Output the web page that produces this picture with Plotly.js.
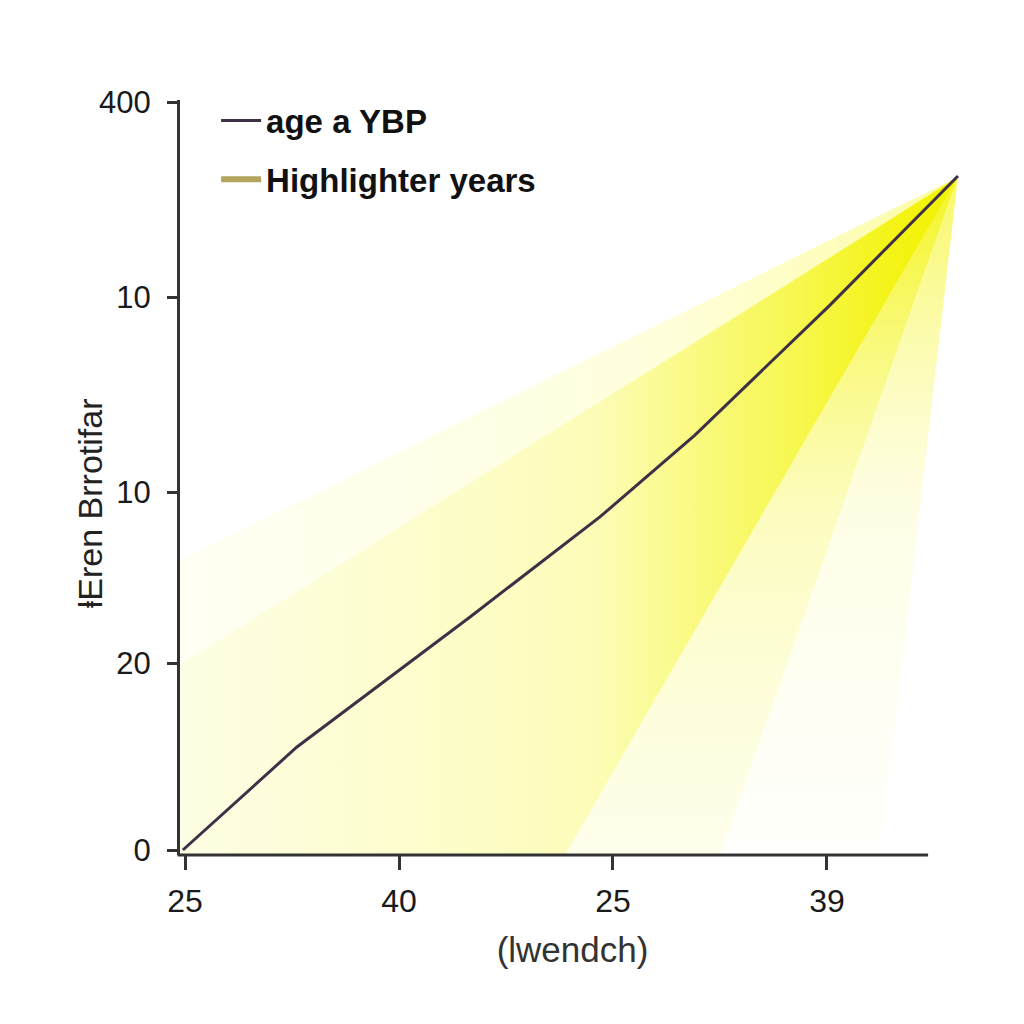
<!DOCTYPE html>
<html>
<head>
<meta charset="utf-8">
<script src="https://cdn.plot.ly/plotly-3.0.1.min.js"></script>
<style>html,body{margin:0;padding:0;background:#fff;}#chart{width:1024px;height:1024px;}</style>
</head>
<body>
<div id="chart"></div>
<script>
// ---- data ----
const lineX = [-0.01, 0.523, 1.332, 1.939, 2.383, 3.014, 3.612];
const lineY = [0, 55.1, 124.6, 178.1, 221.9, 291.4, 360.4];

const xTickVals = [0, 1, 2, 3];
const xTickText = ['25', '40', '25', '39'];
const yTickVals = [0, 100, 191.4, 295.7, 400];
const yTickText = ['0', '20', '10', '10', '400'];

// highlighter fans (apex at the end of the line)
const fanWideX = [3.612, -0.0234, -0.0234, 1.776, 3.612];
const fanWideY = [359.9, 155.1, -2.6, -2.6, 359.9];
const fanMainX = [3.612, -0.0234, -0.0234, 1.776, 3.612];
const fanMainY = [359.9, 98.9, -2.6, -2.6, 359.9];
const fanCoreX = [3.612, 1.939, 1.939, 3.612];
const fanCoreY = [359.9, 239.0, 30.5, 359.9];
const fanBeamX = [3.612, 1.776, 2.5, 3.612];
const fanBeamY = [359.9, -2.6, -2.6, 359.9];
const fanPaleX = [3.612, 2.5, 3.248, 3.612];
const fanPaleY = [359.9, -2.6, -2.6, 359.9];

const seriesNames = ['age a YBP', 'Highlighter years'];
const xTitle = '(lwendch)';
const yTitle = 'ⱡEren Brrotifar';

function fan(x, y, type, start, stop, scale) {
  return {x: x, y: y, type: 'scatter', mode: 'none', fill: 'toself', showlegend: false, hoverinfo: 'skip',
    fillgradient: {type: type, start: start, stop: stop, colorscale: scale}};
}

const traces = [
  fan(fanWideX, fanWideY, 'horizontal', -0.0234, 3.612,
    [[0, 'rgba(255,255,200,0.22)'], [0.6, 'rgba(255,255,170,0.4)'], [1, 'rgba(250,250,120,0.7)']]),
  fan(fanMainX, fanMainY, 'horizontal', -0.0234, 3.612,
    [[0, 'rgba(252,252,200,0.35)'], [0.5, 'rgba(250,250,150,0.5)'], [0.8, 'rgba(248,248,90,0.7)'], [1, 'rgba(242,242,0,1)']]),
  fan(fanCoreX, fanCoreY, 'horizontal', 1.939, 3.612,
    [[0, 'rgba(246,246,60,0)'], [0.5, 'rgba(245,245,40,0.45)'], [1, 'rgba(242,242,0,0.95)']]),
  fan(fanBeamX, fanBeamY, 'vertical', -2.6, 359.9,
    [[0, 'rgba(253,253,200,0.35)'], [0.5, 'rgba(250,250,140,0.55)'], [1, 'rgba(244,244,20,0.95)']]),
  fan(fanPaleX, fanPaleY, 'vertical', -2.6, 359.9,
    [[0, 'rgba(255,255,220,0.1)'], [0.5, 'rgba(252,252,170,0.3)'], [1, 'rgba(246,246,60,0.8)']]),
  {x: lineX, y: lineY, type: 'scatter', mode: 'lines', name: seriesNames[0], legendgroup: 'a',
   line: {color: '#3d3047', width: 3}},
  {x: [null], y: [null], type: 'scatter', mode: 'lines', name: seriesNames[1], legendgroup: 'b',
   line: {color: '#b3a55c', width: 6}}
];

const layout = {
  width: 1024, height: 1024,
  margin: {l: 180, r: 59, t: 100, b: 169},
  paper_bgcolor: '#ffffff', plot_bgcolor: 'rgba(0,0,0,0)',
  font: {family: 'Liberation Sans, Arial, sans-serif', color: '#1a1a1a'},
  showlegend: true,
  legend: {x: 0.046, y: 1.01, xanchor: 'left', yanchor: 'top', bgcolor: 'rgba(0,0,0,0)',
    font: {size: 33, color: '#111', weight: 'bold'}, traceorder: 'grouped', tracegroupgap: 13, itemwidth: 40},
  xaxis: {range: [-0.0234, 3.645], showgrid: false, zeroline: false, showline: false,
    tickvals: xTickVals, ticktext: xTickText, ticks: 'outside', ticklen: 14, tickwidth: 3, tickcolor: '#333',
    tickfont: {size: 32, color: '#1a1a1a'}, ticklabelstandoff: 4,
    title: {text: xTitle, font: {size: 35, color: '#333'}, standoff: 19}},
  yaxis: {range: [-2.674, 401.07], showgrid: false, zeroline: false, showline: true, linecolor: '#333', linewidth: 3,
    tickvals: yTickVals, ticktext: yTickText, ticks: 'outside', ticklen: 10, tickwidth: 3, tickcolor: '#333',
    tickfont: {size: 31, color: '#1a1a1a'}, ticklabelstandoff: 10},
  annotations: [
    {text: yTitle, textangle: -90, xref: 'paper', yref: 'paper', x: -0.1146, y: 0.466,
     xanchor: 'center', yanchor: 'middle', showarrow: false, font: {size: 34, color: '#222'}}
  ],
  shapes: [
    {type: 'line', xref: 'paper', yref: 'paper', x0: -0.003, x1: 0.953, y0: 0, y1: 0,
     line: {color: '#333', width: 3}, layer: 'above'}
  ]
};

Plotly.newPlot('chart', traces, layout, {displayModeBar: false, staticPlot: true});
</script>
</body>
</html>
